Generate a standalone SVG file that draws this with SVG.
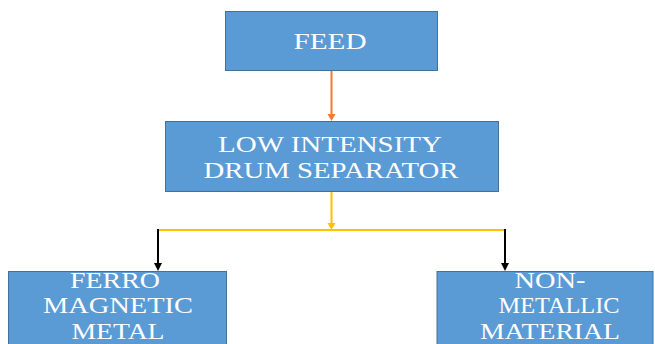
<svg xmlns="http://www.w3.org/2000/svg" width="655" height="344" viewBox="0 0 655 344">
<style>
.box{fill:#5B9BD5;stroke:#41719C;stroke-width:1}
.t{font-family:"Liberation Serif","Times New Roman",serif;font-size:23px;fill:#FFFFFF;text-anchor:middle}
.c{fill:none;stroke-width:2}
</style>
<rect width="655" height="344" fill="#FFFFFF"/>
<g id="connectors">
<line class="c" x1="331.5" y1="71" x2="331.5" y2="115" stroke="#ED7D31"/>
<path d="M327.5,114 L335.5,114 L331.5,121 Z" fill="#ED7D31"/>
<line class="c" x1="331.5" y1="192" x2="331.5" y2="224" stroke="#FFC000"/>
<path d="M327.5,223 L335.5,223 L331.5,230 Z" fill="#FFC000"/>
<polyline class="c" points="158,230 505,230" stroke="#FFC000"/>
<line class="c" x1="158" y1="229" x2="158" y2="264" stroke="#000000"/>
<path d="M154,263 L162,263 L158,271 Z" fill="#000000"/>
<line class="c" x1="505" y1="229" x2="505" y2="264" stroke="#000000"/>
<path d="M501,263 L509,263 L505,271 Z" fill="#000000"/>
</g>
<g id="feed">
<rect class="box" x="225.5" y="11.5" width="212" height="59"/>
<text class="t" x="330" y="49" textLength="73" lengthAdjust="spacingAndGlyphs">FEED</text>
</g>
<g id="separator">
<rect class="box" x="165.5" y="121.5" width="333" height="70"/>
<text class="t" x="330" y="152" textLength="224" lengthAdjust="spacingAndGlyphs">LOW INTENSITY</text>
<text class="t" x="331" y="177.5" textLength="255" lengthAdjust="spacingAndGlyphs">DRUM SEPARATOR</text>
</g>
<g id="ferro">
<rect class="box" x="8.5" y="271.5" width="218" height="80"/>
<text class="t" x="115" y="288" textLength="90" lengthAdjust="spacingAndGlyphs">FERRO</text>
<text class="t" x="118" y="313" textLength="150" lengthAdjust="spacingAndGlyphs">MAGNETIC</text>
<text class="t" x="118" y="338.5" textLength="93" lengthAdjust="spacingAndGlyphs">METAL</text>
</g>
<g id="nonmetallic">
<rect class="box" x="437" y="271.5" width="216" height="80"/>
<text class="t" x="550" y="288" textLength="71" lengthAdjust="spacingAndGlyphs">NON-</text>
<text class="t" x="559" y="313" textLength="121" lengthAdjust="spacingAndGlyphs">METALLIC</text>
<text class="t" x="550" y="338.5" textLength="140" lengthAdjust="spacingAndGlyphs">MATERIAL</text>
</g>
</svg>
